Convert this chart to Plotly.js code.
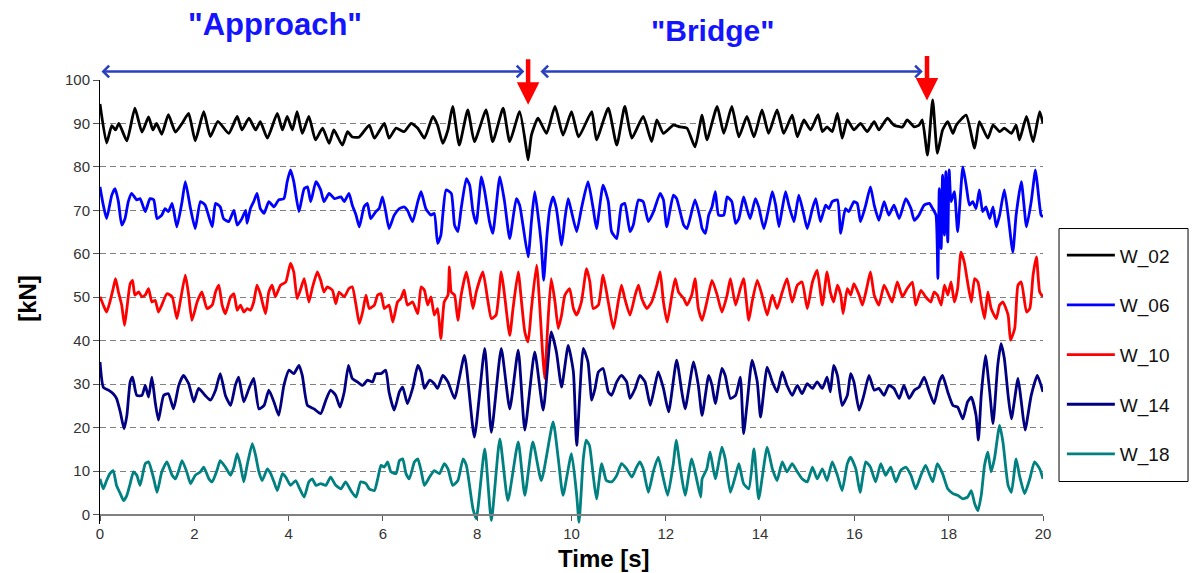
<!DOCTYPE html>
<html>
<head>
<meta charset="utf-8">
<script src="https://cdn.plot.ly/plotly-3.0.1.min.js"></script>
<style>html,body{margin:0;padding:0;background:#fff;}#chart{width:1193px;height:573px;}</style>
</head>
<body>
<div id="chart"></div>
<script>
// Series names and colours
const seriesNames = ["W_02", "W_06", "W_10", "W_14", "W_18"];
const seriesColors = ["#000000", "#0000ff", "#ff0000", "#000080", "#008080"];

// W_02 (time [s], force [kN]) — turning points
const w02_t = [0,0.14,0.25,0.33,0.4,0.57,0.74,0.89,1.03,1.12,1.2,1.31,1.45,1.6,1.74,1.88,2.02,2.2,2.34,2.5,
 2.73,2.91,3.01,3.16,3.3,3.4,3.55,3.76,3.87,3.97,4.08,4.18,4.29,4.43,4.57,4.72,4.86,4.96,
 5.14,5.25,5.35,5.5,5.71,5.82,6.03,6.13,6.28,6.45,6.6,6.74,6.88,7.06,7.16,7.27,7.38,7.48,7.62,
 7.8,7.94,8.19,8.33,8.55,8.69,8.9,9.04,9.08,9.15,9.29,9.47,9.65,9.82,10.0,
 10.15,10.43,10.53,10.78,10.96,11.13,11.28,11.52,11.7,11.81,11.95,12.16,12.3,12.45,12.62,
 12.77,12.87,13.09,13.23,13.4,13.55,13.72,13.87,14.04,14.18,14.36,14.5,14.68,14.79,14.93,15.07,
 15.23,15.32,15.42,15.53,15.64,15.74,15.85,15.99,16.13,16.27,16.42,16.52,16.7,16.84,17.02,17.12,17.27,17.37,17.44,17.55,17.66,17.76,
 17.87,17.98,18.09,18.16,18.37,18.55,18.65,18.83,18.94,19.08,19.18,19.33,19.43,19.5,19.65,19.79,19.93,20.0];
const w02_v = [94.5,85.5,89.5,88.5,90,86,93.5,88,91.5,88.5,90,87.5,92,88,90,92.3,86,92.7,87,90.5,
 87.7,91.6,88.5,91.2,88.5,90.4,86.6,92.3,88.5,91.6,88.5,92.7,87.7,91.6,86.2,88.9,85.4,88.5,
 85.0,88.1,86.9,86.9,89.6,86.6,90.0,86.6,88.9,88.1,90.0,88.9,86.6,91.6,89.6,85.4,88.5,93.9,85.0,
 93.1,85.8,93.1,85.8,93.5,85.8,92.7,84.3,81.6,87.3,91.2,87.7,93.9,87.3,92.7,
 86.9,92.7,86.2,93.5,85.0,93.9,86.6,91.6,85.8,90.8,87.7,89.6,89.2,88.9,84.6,
 91.9,86.2,93.9,87.7,93.9,86.9,91.6,86.9,93.1,87.7,93.1,87.7,91.9,86.9,90.8,88.5,
 92.0,88.1,89.2,88.1,92.3,86.6,90.8,88.5,90.0,88.1,90.4,88.5,91.2,89.6,89.2,90.8,89.2,89.6,90.8,82.7,95.4,83.1,
 88.5,90.4,87.7,89.6,91.9,84.3,90.4,86.6,89.6,88.1,88.9,87.7,89.6,86.2,91.6,85.8,92.7,90.0];

// W_06
const w06_t = [0,0.07,0.14,0.25,0.32,0.39,0.46,0.53,0.6,0.67,0.78,0.85,0.96,1.06,1.14,1.21,1.31,1.38,1.45,1.53,1.63,1.74,1.81,1.92,2.02,2.13,2.23,2.38,2.45,
 2.55,2.62,2.73,2.84,2.91,3.01,3.09,3.12,3.19,3.26,3.33,3.4,3.48,3.58,3.69,3.79,3.9,3.97,4.04,4.11,4.22,4.33,4.4,4.47,4.58,4.68,4.75,4.86,4.97,
 5.11,5.18,5.28,5.35,5.43,5.5,5.6,5.67,5.74,5.85,5.92,5.99,6.06,6.13,6.24,6.35,6.45,6.52,6.63,6.74,6.81,6.91,7.02,7.09,7.16,7.23,7.27,7.34,7.45,7.52,7.59,
 7.66,7.77,7.84,7.91,7.98,8.09,8.16,8.26,8.33,8.48,8.58,8.69,8.83,8.9,8.97,9.08,9.15,9.22,9.29,9.36,9.41,9.48,9.54,9.61,9.68,9.79,9.86,9.93,10.0,10.11,
 10.21,10.35,10.46,10.53,10.67,10.78,10.85,10.96,11.06,11.13,11.24,11.31,11.42,11.52,11.63,11.74,11.88,11.95,12.02,12.16,12.23,12.38,12.45,12.62,12.73,
 12.77,12.84,12.91,12.98,13.05,13.12,13.23,13.3,13.4,13.48,13.55,13.65,13.72,13.79,13.9,13.97,14.08,14.18,14.26,14.33,14.4,14.47,14.54,14.61,14.72,14.82,14.93,15.0,15.11,15.18,
 15.28,15.39,15.46,15.53,15.64,15.71,15.81,15.88,15.99,16.06,16.13,16.24,16.34,16.42,16.52,16.63,16.73,16.84,16.95,17.09,17.2,17.27,17.37,17.48,17.59,17.66,17.73,
 17.77,17.8,17.84,17.87,17.91,17.94,17.98,18.01,18.05,18.12,18.19,18.3,18.37,18.44,18.51,18.58,18.65,18.72,18.79,18.87,18.94,19.01,19.08,19.18,19.26,19.36,19.43,19.54,19.65,19.75,19.84,19.89,19.96,20.0];
const w06_v = [75.4,71.2,68.1,73.5,75.0,72.0,66.6,68.1,72.0,73.9,72.4,72.7,69.7,72.7,72.4,68.1,68.9,70.4,69.7,71.6,66.2,72.0,76.6,70.4,65.8,72.0,71.2,66.2,71.6,
 70.8,68.1,67.4,70.0,66.6,68.1,70.0,67.0,70.4,72.0,73.9,70.4,69.3,72.0,70.8,72.4,72.7,76.6,79.3,76.6,69.7,75.0,75.4,72.0,76.6,74.7,72.0,73.9,72.7,
 73.1,72.0,73.9,71.2,68.9,66.2,70.8,71.6,68.1,69.7,70.4,73.1,69.7,65.8,68.9,70.4,70.8,70.0,67.4,72.0,74.3,70.4,68.9,69.3,62.4,64.3,68.9,74.7,73.9,66.6,65.1,
 70.4,77.3,75.8,69.7,67.0,77.7,74.3,67.4,64.7,77.7,72.0,63.5,72.7,71.2,66.6,59.3,67.4,74.3,68.9,62.0,53.9,64.3,70.4,73.1,70.4,62.0,68.1,72.7,69.7,65.1,
 70.4,76.6,70.4,65.8,75.8,72.0,65.1,63.5,71.2,71.6,65.1,66.6,72.4,72.0,67.4,69.7,73.9,72.4,66.2,73.5,72.7,66.6,65.8,72.4,68.1,
 65.8,64.7,68.9,70.8,74.3,68.9,68.9,73.1,72.0,67.0,68.1,73.1,70.4,68.1,72.7,70.8,65.8,70.4,74.3,71.2,66.2,70.4,74.3,71.2,67.4,73.5,68.9,65.8,70.4,72.7,
 67.4,71.2,70.4,72.0,72.4,64.7,70.4,69.7,72.0,71.6,67.4,71.2,75.4,71.2,67.7,72.0,68.9,71.2,68.1,72.7,70.4,67.7,68.9,71.2,71.6,70.4,68.9,
 54.3,75.0,61.2,78.1,64.3,78.9,62.7,79.3,72.0,74.3,65.1,80.0,75.8,71.2,72.0,70.4,74.7,69.7,70.8,68.1,70.8,66.2,68.9,74.7,68.9,60.4,68.9,76.6,66.2,72.0,79.3,75.0,68.9,68.5];

// W_10
const w10_t = [0,0.07,0.14,0.21,0.28,0.33,0.39,0.46,0.52,0.57,0.64,0.69,0.74,0.82,0.89,0.96,1.03,1.1,1.17,1.24,1.31,1.42,1.53,1.63,1.7,1.81,1.88,1.95,2.06,2.16,2.27,2.38,2.45,
 2.52,2.59,2.66,2.77,2.84,2.91,2.98,3.05,3.12,3.19,3.26,3.33,3.4,3.51,3.58,3.65,3.72,3.83,3.94,4.04,4.11,4.18,4.26,4.33,4.43,4.5,4.61,4.68,4.75,4.82,4.93,5.0,
 5.07,5.18,5.28,5.35,5.43,5.5,5.57,5.64,5.71,5.82,5.89,5.96,6.03,6.13,6.21,6.31,6.38,6.45,6.52,6.63,6.74,6.81,6.88,6.95,7.02,7.09,7.16,7.23,7.3,7.38,7.41,7.45,7.52,7.59,
 7.66,7.77,7.84,7.91,7.98,8.12,8.23,8.3,8.4,8.51,8.58,8.69,8.76,8.87,8.94,9.01,9.08,9.15,9.26,9.33,9.38,9.43,9.5,9.57,9.65,9.72,9.79,9.86,9.96,10.04,10.11,
 10.21,10.32,10.39,10.46,10.57,10.67,10.78,10.89,10.99,11.06,11.13,11.24,11.35,11.42,11.49,11.6,11.7,11.81,11.88,11.95,12.03,12.13,12.2,12.27,12.38,12.45,12.55,12.62,12.69,
 12.77,12.87,12.98,13.09,13.19,13.3,13.37,13.48,13.58,13.65,13.76,13.83,13.94,14.04,14.15,14.26,14.36,14.47,14.57,14.68,14.79,14.89,15.0,15.11,15.21,
 15.32,15.42,15.49,15.56,15.64,15.71,15.76,15.85,15.92,15.99,16.1,16.17,16.26,16.34,16.42,16.52,16.63,16.73,16.8,16.91,17.02,17.12,17.23,17.3,17.41,17.51,17.62,17.69,17.76,
 17.84,17.91,17.98,18.05,18.12,18.19,18.26,18.33,18.4,18.48,18.55,18.62,18.69,18.76,18.83,18.9,19.01,19.08,19.15,19.26,19.31,19.4,19.47,19.54,19.65,19.72,19.79,19.86,19.93,20.0];
const w10_v = [50.1,48.2,46.6,48.9,52.0,54.3,51.2,48.2,43.5,47.4,53.1,53.9,50.5,51.2,50.1,50.5,52.0,48.9,49.3,46.6,48.2,50.8,50.1,45.1,48.9,55.1,50.5,44.7,48.9,51.2,47.4,48.2,51.2,
 52.8,48.2,46.2,50.1,50.8,47.0,48.2,46.6,47.4,47.0,48.9,52.8,50.8,46.2,51.2,52.8,50.1,52.8,53.5,57.8,55.8,49.7,52.0,54.3,48.9,52.0,55.8,53.9,51.2,52.4,51.6,48.5,
 51.2,50.1,52.0,52.4,48.2,43.9,46.6,50.5,47.4,48.2,50.5,50.8,47.4,48.2,44.3,48.9,49.7,51.6,48.2,48.9,46.2,52.4,51.6,48.2,50.1,45.9,47.4,40.5,48.9,50.5,57.0,51.2,50.5,44.7,
 50.5,55.8,52.0,47.4,51.2,55.8,48.9,45.1,45.9,55.8,50.5,41.2,47.4,55.8,48.9,42.0,39.7,47.4,57.4,47.4,38.2,31.3,44.3,54.3,48.9,42.8,45.9,50.5,52.0,47.4,45.9,
 48.9,56.6,53.5,47.4,48.2,55.1,48.9,42.8,48.9,52.8,49.7,45.9,50.5,52.8,49.7,47.4,48.9,52.8,55.8,48.9,44.3,50.5,54.3,51.2,49.7,48.2,50.5,54.3,47.4,
 44.7,48.9,53.9,50.5,46.6,50.5,54.3,48.2,52.0,54.3,44.7,48.9,53.9,50.5,45.9,50.5,47.4,51.2,54.3,48.9,52.8,53.5,47.4,53.5,56.2,
 48.2,55.8,51.2,48.9,52.8,50.5,46.2,52.0,50.5,53.1,50.5,48.2,52.0,55.8,50.5,48.2,52.8,50.5,48.9,53.5,50.1,52.0,53.5,48.2,51.6,50.1,48.9,51.2,50.5,
 48.2,52.8,50.5,53.5,48.9,52.0,60.4,58.1,53.5,48.9,54.3,53.5,48.9,45.1,51.2,47.4,45.1,48.2,48.9,45.9,40.1,42.8,52.8,53.5,46.6,47.4,55.1,59.3,51.2,50.1];

// W_14
const w14_t = [0,0.07,0.18,0.28,0.35,0.43,0.51,0.57,0.64,0.69,0.78,0.89,0.96,1.03,1.1,1.17,1.24,1.35,1.45,1.56,1.67,1.77,1.88,1.99,2.09,2.23,2.34,2.45,
 2.55,2.66,2.77,2.87,2.94,3.05,3.16,3.26,3.37,3.48,3.58,3.69,3.79,3.9,4.01,4.11,4.22,4.29,4.4,4.54,4.68,4.79,4.89,5.0,
 5.09,5.18,5.27,5.35,5.46,5.57,5.67,5.78,5.85,5.96,6.06,6.13,6.24,6.35,6.42,6.52,6.63,6.74,6.81,6.88,6.99,7.09,7.16,7.27,7.38,7.52,
 7.73,7.94,8.16,8.3,8.51,8.69,8.87,9.01,9.22,9.4,9.57,9.68,9.79,9.93,10.04,10.11,
 10.25,10.35,10.43,10.5,10.57,10.67,10.78,10.85,10.96,11.06,11.17,11.24,11.35,11.45,11.56,11.67,11.77,11.84,11.95,12.06,12.23,12.34,12.41,12.59,12.69,12.77,
 12.91,12.98,13.05,13.19,13.26,13.37,13.48,13.58,13.65,13.72,13.83,13.94,14.01,14.15,14.26,14.36,14.47,14.57,14.68,14.79,14.89,15.0,15.11,15.21,
 15.32,15.42,15.49,15.56,15.64,15.74,15.85,15.92,15.99,16.1,16.2,16.31,16.42,16.52,16.63,16.73,16.84,16.95,17.05,17.16,17.27,17.37,17.48,17.59,17.69,17.8,
 17.87,17.98,18.09,18.19,18.3,18.4,18.48,18.58,18.63,18.69,18.78,18.87,18.94,19.04,19.11,19.18,19.26,19.33,19.47,19.54,19.62,19.75,19.88,20.0];
const w14_v = [35.1,29.3,28.6,27.8,26.7,23.6,19.7,22.8,30.5,31.6,27.4,27.4,29.7,27.0,31.6,25.9,21.7,27.4,27.8,24.3,29.7,32.0,30.1,25.9,29.0,27.4,26.3,28.6,
 32.4,27.4,25.1,29.7,31.6,25.9,29.0,31.3,24.3,25.1,28.6,25.9,22.8,29.7,33.2,32.4,34.3,32.0,25.1,24.3,23.2,26.3,28.6,27.4,
 24.7,28.2,34.3,31.3,30.5,29.7,30.9,30.5,32.4,32.4,33.2,28.2,24.0,28.2,29.3,25.5,29.0,34.3,32.8,29.0,30.9,30.1,29.0,32.0,30.5,26.7,
 36.6,17.8,38.2,18.9,38.2,24.3,37.8,19.4,37.4,24.0,42.0,37.4,29.3,38.9,32.8,15.9,
 38.2,35.1,26.3,29.0,32.8,33.6,28.2,27.4,30.5,32.0,30.5,26.7,29.0,32.0,30.5,25.1,29.7,32.8,29.0,23.6,35.5,28.2,24.3,35.1,29.7,22.8,
 32.0,29.7,25.5,33.6,32.0,26.7,27.4,31.6,18.6,25.1,35.5,30.5,22.4,33.9,30.5,28.2,32.8,29.7,27.4,29.7,27.8,30.1,29.0,30.5,
 29.0,31.6,28.2,34.3,32.0,25.1,27.4,32.4,30.5,24.0,27.4,32.0,28.6,29.0,27.4,29.7,29.0,26.7,29.7,26.7,28.6,29.3,31.6,28.2,25.5,30.5,
 32.0,28.2,25.1,24.7,22.0,25.9,27.0,22.8,17.1,27.4,36.6,28.2,20.9,34.3,39.3,35.9,27.4,22.0,31.3,25.9,19.4,27.4,32.0,28.2];

// W_18
const w18_t = [0,0.07,0.14,0.21,0.28,0.35,0.43,0.5,0.57,0.64,0.71,0.78,0.85,0.96,1.03,1.14,1.21,1.31,1.42,1.53,1.6,1.67,1.74,1.84,1.92,2.02,2.13,2.2,2.31,2.38,2.48,
 2.55,2.66,2.77,2.84,2.91,2.98,3.05,3.12,3.23,3.3,3.37,3.44,3.55,3.62,3.69,3.76,3.87,3.94,4.04,4.15,4.22,4.33,4.43,4.5,4.58,4.68,4.79,4.89,5.0,
 5.11,5.21,5.32,5.43,5.53,5.64,5.71,5.82,5.89,5.96,6.03,6.1,6.17,6.28,6.35,6.42,6.49,6.56,6.67,6.74,6.81,6.88,6.99,7.09,7.2,7.3,7.38,7.48,7.59,
 7.7,7.77,7.91,7.98,8.16,8.3,8.48,8.65,8.87,9.01,9.18,9.36,9.61,9.72,9.82,10.0,10.11,
 10.16,10.25,10.31,10.38,10.46,10.53,10.64,10.74,10.85,10.96,11.06,11.17,11.28,11.38,11.45,11.52,11.63,11.74,11.84,11.95,12.04,12.16,12.22,12.31,12.41,12.55,12.66,12.74,
 12.77,12.87,12.94,13.05,13.19,13.26,13.37,13.48,13.55,13.65,13.76,13.87,13.97,14.15,14.26,14.36,14.47,14.57,14.68,14.79,14.89,15.0,15.11,15.21,
 15.32,15.42,15.53,15.64,15.74,15.85,15.92,16.03,16.12,16.24,16.34,16.45,16.56,16.66,16.77,16.88,16.98,17.09,17.2,17.3,17.41,17.51,17.66,17.76,
 17.87,17.98,18.09,18.19,18.3,18.4,18.48,18.55,18.62,18.69,18.76,18.83,18.9,18.97,19.08,19.15,19.26,19.33,19.43,19.5,19.61,19.72,19.82,19.93,20.0];
const w18_v = [8.2,5.9,7.8,9.4,10.1,6.7,4.8,3.2,4.4,7.1,9.8,9.0,6.7,11.7,12.1,8.2,5.1,9.8,12.1,9.0,8.2,10.1,12.4,9.8,7.1,9.0,9.8,10.9,8.2,7.5,10.1,
 12.4,10.9,9.0,10.9,14.0,11.3,7.5,11.3,16.3,13.6,9.8,7.8,10.5,9.4,7.5,5.5,9.4,8.6,6.7,7.8,6.3,4.0,7.5,8.2,6.7,7.1,6.7,8.6,6.7,
 5.9,7.5,5.5,4.0,7.5,7.1,5.9,5.5,8.2,11.3,10.9,12.1,9.8,9.4,12.4,12.8,9.4,8.2,12.1,12.8,10.1,6.7,8.6,10.1,9.4,11.7,10.5,6.7,7.8,
 12.8,11.3,1.3,-1.0,15.1,-1.4,17.4,3.2,16.7,4.4,16.7,7.8,21.3,12.8,4.4,14.0,4.4,
 -1.8,12.8,17.1,15.9,9.0,3.6,11.7,7.8,7.5,9.0,11.7,10.5,8.6,10.9,12.1,10.5,5.1,10.1,13.2,8.2,4.4,11.7,17.1,10.5,4.4,12.8,7.8,4.0,
 8.2,10.5,14.4,8.2,15.5,12.8,5.1,9.0,11.7,7.1,5.9,15.1,3.6,15.5,10.5,7.8,12.1,9.8,11.7,9.8,8.2,7.5,10.9,8.2,
 10.5,7.8,12.1,9.0,5.5,11.7,13.2,10.5,5.1,12.1,10.9,7.5,11.7,9.0,10.9,7.5,10.1,10.9,9.0,5.9,9.0,11.3,7.5,11.7,
 9.4,5.9,4.8,4.4,3.6,4.0,5.5,2.5,0.9,4.4,11.3,14.4,9.8,12.8,20.5,16.7,6.7,5.1,12.8,9.0,4.8,8.2,12.1,10.5,8.2];

// Axis ticks
const xTicks = [0,2,4,6,8,10,12,14,16,18,20];
const yTicks = [0,10,20,30,40,50,60,70,80,90,100];

// Annotated phases and bridge transition markers
const phaseLabels = ['"Approach"', '"Bridge"'];
const phaseStart = [0, 9.31];
const phaseEnd = [9.0, 17.45];
const transitionTimes = [9.08, 17.54];

const allT = [w02_t, w06_t, w10_t, w14_t, w18_t];
const allV = [w02_v, w06_v, w10_v, w14_v, w18_v];

const FONT = "'Liberation Sans', Arial, Helvetica, sans-serif";
const yMin = -2.2, yMax = 100;

const traces = seriesNames.map((n, i) => ({
  type: 'scatter', mode: 'lines', name: n,
  x: allT[i], y: allV[i],
  line: {color: seriesColors[i], width: 2.8, shape: 'spline', smoothing: 0.5},
  legendgroup: 'g' + i,
  hoverinfo: 'x+y+name'
}));

const annotations = [
  {xref: 'x', yref: 'paper', x: 3.71, y: 1.125, text: phaseLabels[0], showarrow: false,
   font: {family: FONT, size: 31, color: '#1414ff', weight: 'bold'}, xanchor: 'center', yanchor: 'middle'},
  {xref: 'x', yref: 'paper', x: 13.0, y: 1.111, text: phaseLabels[1], showarrow: false,
   font: {family: FONT, size: 30, color: '#1414ff', weight: 'bold'}, xanchor: 'center', yanchor: 'middle'},
  {xref: 'paper', yref: 'paper', x: 0.5345, y: -0.1125, text: 'Time [s]', showarrow: false,
   font: {family: FONT, size: 24, color: '#000', weight: 'bold'}, xanchor: 'center', yanchor: 'bottom'},
  {xref: 'paper', yref: 'paper', x: -0.077, y: 0.508, text: '[kN]', showarrow: false, textangle: -90,
   font: {family: FONT, size: 24, color: '#000', weight: 'bold'}, xanchor: 'center', yanchor: 'middle'}
];
// double-headed phase arrows
for (let i = 0; i < 2; i++) {
  annotations.push({
    xref: 'x', yref: 'paper', x: phaseEnd[i], y: 1.019,
    axref: 'x', ayref: 'pixel', ax: phaseStart[i], ay: 0,
    showarrow: true, text: '', arrowside: 'end+start', arrowhead: 4, startarrowhead: 4,
    arrowsize: 0.9, startarrowsize: 0.9, arrowwidth: 2.5, arrowcolor: '#2a3fbf', standoff: 0, startstandoff: 0
  });
}
// red transition arrows
const redTip = [0.944, 0.954], redLen = [47, 46];
for (let i = 0; i < 2; i++) {
  annotations.push({
    xref: 'x', yref: 'paper', x: transitionTimes[i], y: redTip[i],
    ax: 0, ay: -redLen[i], showarrow: true, text: '', arrowhead: 2, arrowsize: 1, arrowwidth: 4.5, arrowcolor: '#ff0000'
  });
}

const layout = {
  width: 1193, height: 573,
  margin: {l: 100, r: 150, t: 80, b: 49},
  paper_bgcolor: '#ffffff', plot_bgcolor: '#ffffff',
  font: {family: FONT, color: '#333'},
  showlegend: true,
  legend: {x: 1.02, xanchor: 'left', y: 0.648, yanchor: 'top', bgcolor: 'rgba(255,255,255,0)', borderwidth: 0,
           traceorder: 'grouped', tracegroupgap: 22, itemwidth: 48,
           font: {family: FONT, size: 19, color: '#111'}},
  xaxis: {range: [0, 20], tickvals: xTicks, ticktext: xTicks.map(String), showgrid: false, zeroline: false,
          anchor: 'free', position: (0 - yMin) / (yMax - yMin),
          showline: true, linecolor: '#808080', linewidth: 1.5,
          ticks: 'outside', ticklen: 5, tickcolor: '#555', tickwidth: 1,
          tickfont: {family: FONT, size: 15, color: '#333'}},
  yaxis: {range: [yMin, yMax], tickvals: yTicks, ticktext: yTicks.map(String), zeroline: false,
          showgrid: true, gridcolor: '#808080', griddash: '6px,4px', gridwidth: 1,
          showline: true, linecolor: '#000', linewidth: 1,
          ticks: 'outside', ticklen: 6, tickcolor: '#555',
          tickfont: {family: FONT, size: 15, color: '#333'}},
  shapes: [
    {type: 'rect', xref: 'paper', yref: 'paper', x0: 1.017, x1: 1.1538, y0: 0.0957, y1: 0.6655,
     line: {color: '#000', width: 1}, fillcolor: 'rgba(0,0,0,0)', layer: 'below'}
  ],
  annotations: annotations
};

Plotly.newPlot('chart', traces, layout, {displayModeBar: false, staticPlot: true});
</script>
</body>
</html>
